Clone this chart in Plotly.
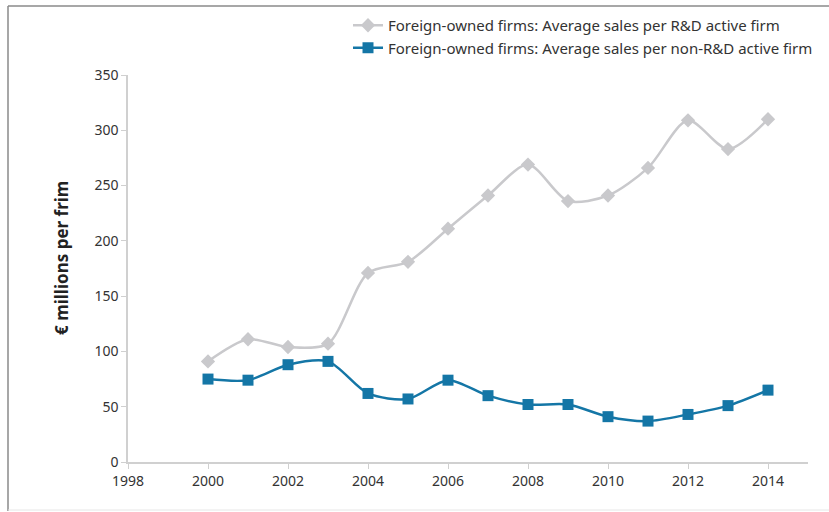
import plotly.graph_objects as go

years = [2000, 2001, 2002, 2003, 2004, 2005, 2006, 2007, 2008, 2009, 2010, 2011, 2012, 2013, 2014]
rd_active = [91, 111, 104, 107, 171, 181, 211, 241, 269, 236, 241, 266, 309, 283, 310]
non_rd_active = [75, 74, 88, 91, 62, 57, 74, 60, 52, 52, 41, 37, 43, 51, 65]
series_names = [
    "Foreign-owned firms: Average sales per R&D active firm",
    "Foreign-owned firms: Average sales per non-R&D active firm",
]
y_title = "€ millions per frim"
x_ticks = [1998, 2000, 2002, 2004, 2006, 2008, 2010, 2012, 2014]
y_ticks = [0, 50, 100, 150, 200, 250, 300, 350]

FONT = "Noto Sans"
GRAY = "#c9c9cc"
BLUE = "#1476a6"

fig = go.Figure()
fig.add_trace(go.Scatter(
    x=years, y=rd_active, name=series_names[0], mode="lines+markers",
    line=dict(color=GRAY, width=2.5, shape="spline", smoothing=0.8),
    marker=dict(symbol="diamond", size=11, color=GRAY),
))
fig.add_trace(go.Scatter(
    x=years, y=non_rd_active, name=series_names[1], mode="lines+markers",
    line=dict(color=BLUE, width=2.5, shape="spline", smoothing=0.8),
    marker=dict(symbol="square", size=11, color=BLUE),
))

L, R, T, B = 128, 21, 75, 50
W, H = 829, 512
pw, ph = W - L - R, H - T - B

def px(xp):
    return (xp - L) / pw

def py(yp):
    return (H - B - yp) / ph

fig.update_layout(
    width=W, height=H,
    margin=dict(l=L, r=R, t=T, b=B, autoexpand=False),
    paper_bgcolor="white", plot_bgcolor="white",
    font=dict(family=FONT, size=14, color="#333333"),
    showlegend=True,
    legend=dict(
        x=px(348), y=py(9), xanchor="left", yanchor="top",
        font=dict(family=FONT, size=15, color="#333333"),
        bgcolor="rgba(0,0,0,0)", itemwidth=30, tracegroupgap=0,
    ),
    xaxis=dict(
        range=[1998, 2015], tickvals=x_ticks, ticktext=[str(v) for v in x_ticks],
        showgrid=False, zeroline=False, showline=True, linecolor="#d0d0d0", linewidth=1.5,
        ticks="outside", ticklen=5, tickcolor="#d0d0d0",
        tickfont=dict(family=FONT, size=14, color="#333333"),
    ),
    yaxis=dict(
        range=[0, 350], tickvals=y_ticks,
        showgrid=False, zeroline=False, showline=True, linecolor="#d0d0d0", linewidth=1.5,
        ticks="outside", ticklen=5, tickcolor="#d0d0d0",
        tickfont=dict(family=FONT, size=14, color="#333333"),
    ),
    annotations=[
        dict(text="<b>" + y_title + "</b>", xref="paper", yref="paper", x=px(61), y=py(258),
             xanchor="center", yanchor="middle", textangle=-90, showarrow=False,
             font=dict(family=FONT, size=17, color="#222222")),
    ],
    shapes=[
        dict(type="line", xref="paper", yref="paper", x0=px(8), x1=px(829), y0=py(6), y1=py(6),
             line=dict(color="#8a8a8a", width=1.5)),
        dict(type="line", xref="paper", yref="paper", x0=px(8), x1=px(8), y0=py(6), y1=py(511),
             line=dict(color="#8a8a8a", width=1.5)),
        dict(type="line", xref="paper", yref="paper", x0=px(8), x1=px(829), y0=py(510), y1=py(510),
             line=dict(color="#e6e6e6", width=1)),
    ],
)

fig.write_html("out.html", config={"displayModeBar": False},
               post_script="document.body.style.margin='0';")
